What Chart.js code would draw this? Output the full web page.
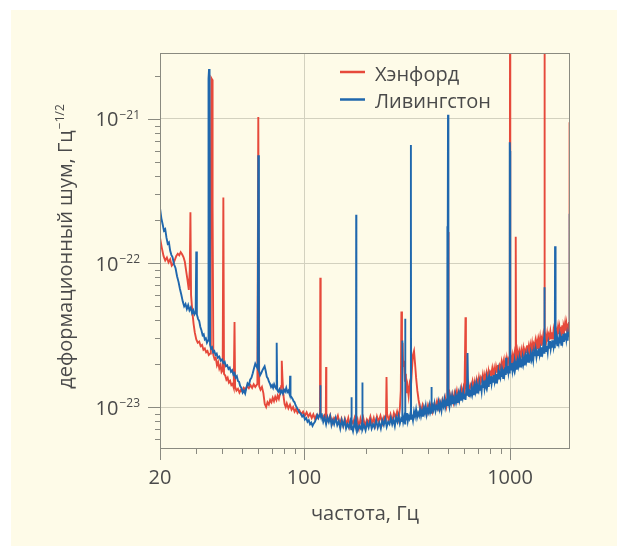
<!DOCTYPE html>
<html>
<head>
<meta charset="utf-8">
<title>Шум детекторов LIGO</title>
<script src="https://cdn.jsdelivr.net/npm/chart.js"></script>
<style>
  body { margin: 0; background: #ffffff; }
  #wrap { position: absolute; left: 11px; top: 10px; width: 606px; height: 536px; background: #fefbe8; }
</style>
</head>
<body>
<div id="wrap"><canvas id="noise-chart" width="606" height="536"></canvas></div>

<script>
// strain noise, units of 1e-23 1/sqrt(Hz)
const hanford = [
  [20,15],[20.4,12.8],[20.8,11.2],[21.2,10.4],[21.6,10.9],[22,10.1],[22.4,10.6],[22.8,9.6],[23.2,9.9],[23.6,10.5],
  [24,11.2],[24.4,11.6],[24.8,11.3],[25.2,11.9],[25.6,11.5],[26,11.0],[26.4,10.2],[26.8,8.8],[27.2,7.6],[27.6,6.5],
  [27.9,9],[28.1,22.5],[28.3,6],[28.7,4.6],[29.1,3.8],[29.5,3.3],[30,2.95],[30.5,2.8],[31,2.85],[31.5,2.65],
  [32,2.7],[32.5,2.5],[33,2.55],[33.5,2.4],[34,2.45],[34.5,2.3],[35,2.35],[35.3,30],[35.5,192],[35.8,188],
  [36.0,25],[36.3,2.3],[36.8,2.15],[37.3,2.2],[37.8,1.95],[38.3,2.05],[38.8,1.85],[39.3,1.95],[39.8,1.75],[40.3,1.8],
  [40.6,28.5],[40.9,1.7],[41.5,1.65],[42,1.55],[42.6,1.6],[43.2,1.48],[43.8,1.52],[44.4,1.42],[45,1.45],[45.6,1.36],
  [46,3.9],[46.3,1.38],[47,1.3],[47.8,1.34],[48.6,1.26],[49.4,1.32],[50.2,1.28],[51,1.36],[52,1.32],[53,1.4],
  [54,1.35],[55,1.42],[56,1.36],[57,1.44],[58,1.38],[59.4,1.45],[60,103],[60.6,1.4],[61.5,1.32],[62.5,1.38],
  [63.5,1.25],[64.5,1.05],[65.5,1.0],[66.5,1.08],[67.5,1.04],[68.5,1.12],[69.5,1.08],[70.5,1.16],[71.5,1.1],[72.5,1.18],
  [73.5,1.12],[74.5,1.2],[75.5,1.14],[76.5,1.24],[77.5,1.4],[78,2.1],[78.6,1.6],[79.5,1.2],[80.5,1.05],[81.5,1.0],
  [82.5,1.06],[84,0.98],[85.5,1.04],[87,0.96],[88.5,1.0],[90,0.93],[91.5,0.97],[93,0.91],[95,0.95],[97,0.89],
  [99,0.93],[101,0.87],[103,0.92],[105,0.86],[107,0.9],[109,0.84],[111,0.89],[113,0.83],[115,0.88],[117,0.84],
  [119.5,0.9],[120,7.9],[120.5,0.88],[123,0.83],[125.5,0.88],[127.6,0.85],[128,1.9],[128.4,0.86],[131,0.8],[134,0.88],
  [137,0.77],[140,0.84],[143,0.8],[146,0.87],[149,0.76],[152,0.83],[155,0.74],[158,0.83],[161,0.76],[164,0.84],
  [167,0.73],[170,0.81],[173,0.77],[176,0.84],[179,0.75],[182,0.82],[185,0.72],[188,0.83],[191,0.76],[194,0.84],
  [198,0.74],[202,0.82],[206,0.78],[210,0.86],[214,0.77],[218,0.84],[222,0.75],[226,0.86],[230,0.79],[235,0.87],
  [240,0.77],[245,0.86],[250,0.82],[251.5,1.62],[253,0.9],[258,0.81],[263,0.89],[268,0.79],[273,0.91],[278,0.84],
  [283,0.93],[288,0.83],[292,0.98],[295,1.3],[297,4.6],[299,2.4],[301,2.8],[303,1.9],[306,2.1],[309,1.5],
  [312,1.7],[315,1.25],[318,1.4],[322,1.2],[326,1.45],[330,1.35],[334,1.8],[338,2.3],[342,2.45],[346,2.0],
  [350,1.6],[355,1.3],[360,1.12],[365,1.0],[370,0.94],[376,1.03],[382,0.92],[388,1.01],[394,0.9],[400,1.03],
  [407,0.95],[414,1.05],[421,0.93],[428,1.04],[435,1.0],[442,1.1],[449,0.99],[456,1.09],[463,0.98],[470,1.12],
  [477,1.04],[484,1.16],[491,1.02],[497,1.15],[500,16.4],[503,1.11],[510,1.23],[517,1.1],[524,1.22],[531,1.09],
  [538,1.25],[545,1.16],[552,1.29],[559,1.14],[566,1.28],[573,1.23],[580,1.36],[587,1.22],[594,1.35],[601,1.21],
  [608,4.2],[611,1.4],[618,1.29],[626,1.44],[634,1.27],[642,1.43],[650,1.37],[658,1.51],[666,1.36],[674,1.5],
  [682,1.34],[690,1.55],[698,1.44],[706,1.6],[714,1.42],[722,1.59],[730,1.52],[738,1.68],[746,1.51],[754,1.66],
  [762,1.49],[770,1.71],[778,1.58],[786,1.76],[794,1.56],[802,1.75],[811,1.69],[820,1.86],[829,1.66],[838,1.84],
  [847,1.65],[856,1.9],[865,1.76],[874,1.96],[883,1.73],[892,1.94],[901,1.86],[910,2.05],[919,1.84],[928,2.04],
  [937,1.82],[946,2.1],[955,1.93],[964,2.15],[973,1.91],[982,2.13],[991,2.05],[997,2.25],[1000,400],[1003,2.0],
  [1012,2.22],[1022,1.98],[1032,2.28],[1042,2.1],[1052,2.34],[1062,2.07],[1066,15.2],[1070,2.31],[1080,2.21],[1090,2.44],
  [1100,2.19],[1112,2.41],[1124,2.15],[1136,2.48],[1148,2.28],[1160,2.54],[1172,2.25],[1184,2.51],[1196,2.41],[1208,2.68],
  [1220,2.38],[1232,2.62],[1244,2.34],[1256,2.69],[1268,2.48],[1280,2.76],[1292,2.44],[1304,2.73],[1316,2.62],[1328,2.88],
  [1340,2.57],[1352,2.84],[1364,2.53],[1376,2.91],[1388,2.68],[1400,3.01],[1412,2.66],[1424,2.97],[1436,2.84],[1448,3.12],
  [1460,2.79],[1468,3.07],[1471,400],[1474,2.72],[1486,3.13],[1500,2.9],[1514,3.22],[1528,2.85],[1542,3.18],[1556,3.05],
  [1570,3.35],[1584,3.0],[1598,3.31],[1612,2.95],[1626,3.39],[1640,3.12],[1654,3.47],[1668,3.06],[1682,3.41],[1696,3.27],
  [1710,3.6],[1724,3.21],[1738,3.54],[1752,3.15],[1766,3.61],[1780,3.32],[1794,3.69],[1808,3.26],[1822,3.63],[1836,3.47],
  [1850,3.81],[1864,3.4],[1878,3.74],[1892,3.33],[1906,3.81],[1920,3.5],[1934,3.89],[1942,3.42],[1946,95],[1950,40],
  [1955,3.81]
];

const livingston = [
  [20,24],[20.3,20.5],[20.6,18.6],[20.9,16.8],[21.2,17.2],[21.5,15],[21.8,13.6],[22.1,13.9],[22.4,12.2],[22.7,11.4],
  [23,11.0],[23.4,9.8],[23.8,9.2],[24.2,8.1],[24.6,7.4],[25,6.6],[25.4,6.0],[25.8,5.4],[26.2,5.0],[26.6,5.2],
  [27,4.8],[27.4,5.1],[27.8,4.7],[28.2,4.9],[28.6,4.5],[29,4.7],[29.4,4.4],[29.8,4.55],[30,12],[30.2,4.4],
  [30.6,4.1],[31,3.95],[31.4,3.6],[31.8,3.4],[32.2,3.15],[32.6,3.2],[33,2.95],[33.4,3.0],[33.8,2.8],[34.2,2.9],
  [34.4,190],[34.6,222],[34.8,150],[35,2.7],[35.4,2.55],[35.8,2.6],[36.2,2.4],[36.7,2.45],[37.2,2.3],[37.7,2.35],
  [38.2,2.2],[38.8,2.24],[39.4,2.1],[40,2.14],[40.6,2.02],[41.2,2.06],[41.8,1.92],[42.4,1.95],[43,1.84],[43.6,1.88],
  [44.2,1.76],[44.8,1.8],[45.4,1.68],[46,1.72],[46.6,1.6],[47.2,1.64],[47.8,1.52],[48.4,1.5],[49,1.4],[49.7,1.36],
  [50.4,1.26],[51.1,1.3],[51.8,1.24],[52.5,1.36],[53.2,1.46],[54,1.42],[54.8,1.55],[55.6,1.6],[56.4,1.72],[57.2,1.86],
  [58,2.0],[58.8,1.92],[59.6,1.85],[60,56],[60.4,1.8],[61.2,1.66],[62,1.72],[62.8,1.8],[63.6,1.86],[64.4,1.92],
  [65.2,1.78],[66,1.62],[66.8,1.58],[67.6,1.5],[68.4,1.45],[69.2,1.38],[70,1.42],[70.8,1.36],[71.6,1.44],[72.4,1.38],
  [73.3,1.34],[73.7,2.8],[74.1,1.32],[75,1.28],[76,1.33],[77,1.25],[78,1.3],[79,1.24],[80,1.32],[81,1.28],
  [82,1.36],[83,1.27],[84,1.3],[85.2,1.22],[85.6,1.65],[86,1.2],[87,1.17],[88,1.14],[89,1.1],[90,1.08],
  [91,1.03],[92,1.0],[93.5,0.96],[95,0.92],[96.5,0.9],[98,0.86],[99.5,0.88],[101,0.82],[102.5,0.84],[104,0.79],
  [105.5,0.81],[107,0.76],[108.5,0.78],[110,0.74],[111.5,0.77],[113,0.79],[114.5,0.83],[116,0.88],[117.5,0.84],[119.7,0.9],
  [120,1.42],[120.4,0.88],[122,0.89],[124,0.79],[126,0.85],[128,0.76],[130,0.85],[132,0.79],[134,0.86],[136,0.75],
  [138,0.81],[140,0.76],[142.5,0.84],[145,0.75],[147.5,0.8],[150,0.71],[152.5,0.81],[155,0.74],[157.5,0.81],[160,0.71],
  [162.5,0.76],[165,0.72],[167.5,0.79],[169.6,0.7],[170,1.17],[170.4,0.75],[173,0.68],[176,0.78],[178.8,0.71],[179.2,21.6],
  [179.6,0.79],[182.5,0.69],[185.5,0.74],[188.5,0.71],[191.6,0.78],[192,1.48],[192.4,0.7],[195.5,0.75],[199,0.69],[202.5,0.78],
  [206,0.72],[209.5,0.8],[213,0.71],[216.5,0.76],[220,0.72],[224,0.81],[228,0.72],[232,0.78],[236,0.71],[240,0.81],
  [244,0.75],[248,0.83],[252,0.73],[256,0.79],[260,0.76],[264,0.84],[268,0.76],[272,0.82],[276,0.74],[280,0.85],
  [284,0.79],[288,0.87],[292,0.77],[296,0.83],[299.6,0.8],[300,2.9],[300.4,0.88],[303,0.79],[306,0.85],[309.6,0.77],
  [310,4.1],[310.4,0.88],[313,0.82],[316,0.91],[319,0.8],[322,0.86],[325,0.83],[329.4,0.92],[330,66],[330.6,30],
  [331,0.83],[334,0.89],[338,0.81],[342,0.93],[346,0.86],[350,0.96],[354,0.85],[358,0.91],[362,0.87],[366,0.97],
  [370,0.87],[374,0.94],[378,0.86],[382,0.98],[386,0.91],[390,1.01],[394,0.89],[398,0.96],[402,0.92],[406,1.02],
  [410,0.92],[415.6,0.99],[416,1.38],[416.4,0.9],[420,1.03],[425,0.96],[430,1.06],[435,0.94],[440,1.01],[445,0.97],
  [450,1.08],[455,0.97],[460,1.05],[465,0.95],[470,1.09],[475,1.02],[480,1.13],[485,1.0],[490,1.08],[494.5,1.03],
  [495,18],[495.5,1.14],[499.5,1.03],[500,107],[501.5,60],[503,1.11],[508,1.01],[513,1.16],[518,1.08],[523,1.19],
  [528,1.05],[533,1.14],[538,1.08],[543,1.21],[548,1.09],[553,1.17],[558,1.07],[563,1.22],[568,1.13],[573,1.26],
  [578,1.11],[583,1.2],[588,1.15],[593,1.28],[598,1.15],[603,1.24],[608,1.12],[613,1.29],[618,1.2],[622,2.37],
  [626,1.33],[632,1.18],[638,1.27],[644,1.22],[650,1.36],[656,1.23],[662,1.33],[668,1.21],[674,1.39],[680,1.29],
  [686,1.43],[692,1.26],[698,1.37],[704,1.31],[710,1.46],[716,1.32],[722,1.42],[728,1.29],[734,1.49],[740,1.38],
  [746,1.53],[752,1.35],[758,1.46],[764,1.4],[770,1.56],[776,1.41],[782,1.52],[788,1.38],[794,1.59],[800,1.47],
  [807,1.64],[814,1.45],[821,1.57],[828,1.5],[835,1.67],[842,1.51],[849,1.63],[856,1.48],[863,1.7],[870,1.59],
  [877,1.76],[884,1.56],[891,1.69],[898,1.61],[905,1.79],[912,1.62],[919,1.75],[926,1.59],[933,1.83],[940,1.7],
  [947,1.89],[954,1.67],[958,2.2],[962,1.81],[969,1.74],[976,1.93],[983,1.74],[990,1.88],[996,1.71],[998,69],
  [1000,60],[1002,40],[1004,1.96],[1012,1.82],[1020,2.02],[1028,1.79],[1036,1.94],[1044,1.85],[1052,2.06],[1060,1.85],
  [1070,2.0],[1080,1.82],[1090,2.09],[1100,1.94],[1110,2.16],[1120,1.91],[1130,2.07],[1140,1.98],[1150,2.2],[1160,1.99],
  [1170,2.15],[1180,1.95],[1190,2.24],[1200,2.09],[1212,2.32],[1224,2.06],[1236,2.23],[1248,2.13],[1260,2.37],[1272,2.15],
  [1284,2.32],[1296,2.11],[1308,2.43],[1320,2.26],[1332,2.5],[1344,2.22],[1356,2.4],[1368,2.3],[1380,2.55],[1392,2.31],
  [1404,2.5],[1416,2.27],[1428,2.6],[1440,2.43],[1452,2.7],[1464,2.38],[1469,2.57],[1471,6.8],[1473,2.44],[1485,2.71],
  [1498,2.45],[1511,2.65],[1524,2.41],[1537,2.77],[1550,2.58],[1563,2.87],[1576,2.54],[1589,2.74],[1602,2.62],[1615,2.91],
  [1628,2.62],[1641,2.83],[1650,2.56],[1654,13.1],[1658,2.93],[1670,2.73],[1683,3.03],[1696,2.68],[1709,2.89],[1722,2.76],
  [1735,3.07],[1748,2.77],[1761,2.99],[1774,2.71],[1787,3.12],[1800,2.9],[1813,3.22],[1826,2.84],[1839,3.07],[1852,2.94],
  [1865,3.26],[1878,2.95],[1891,3.18],[1904,2.89],[1917,3.32],[1930,3.08],[1942,3.42],[1946,22],[1950,10],[1955,3.06]
];

const xTicks = [20, 30, 40, 50, 60, 70, 80, 90, 100, 200, 300, 400, 500, 600, 700, 800, 900, 1000];
const xTickLabels = ['20', '', '', '', '', '', '', '', '100', '', '', '', '', '', '', '', '', '1000'];
const yTicks = [6e-24, 7e-24, 8e-24, 9e-24, 1e-23, 2e-23, 3e-23, 4e-23, 5e-23, 6e-23, 7e-23, 8e-23, 9e-23,
                1e-22, 2e-22, 3e-22, 4e-22, 5e-22, 6e-22, 7e-22, 8e-22, 9e-22, 1e-21, 2e-21];
const yTickExponents = ['', '', '', '', '−23', '', '', '', '', '', '', '', '',
                        '−22', '', '', '', '', '', '', '', '', '−21', ''];

const FONT = '"Open Sans", "DejaVu Sans", sans-serif';
const TEXT = '#4a4a4a';

// ticks, frame, labels, legend
const decorations = {
    id: 'decorations',
    afterDraw(chart) {
        const ctx = chart.ctx;
        const a = chart.chartArea;
        const x = chart.scales.x, y = chart.scales.y;
        ctx.save();
        ctx.strokeStyle = '#8a8a80';
        ctx.lineWidth = 1;
        ctx.strokeRect(a.left + 0.5, a.top + 0.5, a.right - a.left - 1, a.bottom - a.top);

        ctx.beginPath();
        xTicks.forEach((v, i) => {
            const px = Math.round(x.getPixelForValue(v)) + 0.5;
            const len = xTickLabels[i] ? 12 : 6;
            ctx.moveTo(px, a.bottom);
            ctx.lineTo(px, a.bottom + len);
        });
        yTicks.forEach((v, i) => {
            const py = Math.round(y.getPixelForValue(v)) + 0.5;
            const len = yTickExponents[i] ? 12 : 5;
            ctx.moveTo(a.left, py);
            ctx.lineTo(a.left - len, py);
        });
        ctx.stroke();

        ctx.fillStyle = TEXT;
        ctx.textBaseline = 'alphabetic';
        ctx.font = '20px ' + FONT;
        ctx.textAlign = 'center';
        xTicks.forEach((v, i) => {
            if (xTickLabels[i]) ctx.fillText(xTickLabels[i], x.getPixelForValue(v), 474);
        });
        ctx.fillText('частота, Гц', (a.left + a.right) / 2, 510);

        const right = 129;
        yTicks.forEach((v, i) => {
            if (!yTickExponents[i]) return;
            const py = y.getPixelForValue(v);
            ctx.font = '12px ' + FONT;
            ctx.textAlign = 'right';
            const sw = ctx.measureText(yTickExponents[i]).width;
            ctx.fillText(yTickExponents[i], right, py);
            ctx.font = '20px ' + FONT;
            ctx.fillText('10', right - sw - 1, py + 7.5);
        });

        // rotated y title with superscript
        ctx.save();
        ctx.translate(61, (a.top + a.bottom) / 2 - 4);
        ctx.rotate(-Math.PI / 2);
        ctx.textAlign = 'left';
        const main = 'деформационный шум, Гц', sup = '−1/2';
        ctx.font = '20px ' + FONT;
        const w1 = ctx.measureText(main).width;
        ctx.font = '12px ' + FONT;
        const w2 = ctx.measureText(sup).width;
        const start = -(w1 + w2 + 1) / 2;
        ctx.font = '20px ' + FONT;
        ctx.fillText(main, start, 0);
        ctx.font = '12px ' + FONT;
        ctx.fillText(sup, start + w1 + 1, -8);
        ctx.restore();

        // legend inside the plot
        const items = [chart.data.datasets[0], chart.data.datasets[1]];
        items.forEach((ds, i) => {
            const ly = 62 + i * 27.5;
            ctx.strokeStyle = ds.borderColor;
            ctx.lineWidth = 2.5;
            ctx.beginPath();
            ctx.moveTo(329, ly);
            ctx.lineTo(354, ly);
            ctx.stroke();
            ctx.fillStyle = TEXT;
            ctx.font = '20px ' + FONT;
            ctx.textAlign = 'left';
            ctx.fillText(ds.label, 364, ly + 8.5);
        });
        ctx.restore();
    }
};

function gridColor(values, labels) {
    return (c) => {
        if (!c.tick) return 'rgba(0,0,0,0)';
        const i = values.indexOf(c.tick.value);
        return i >= 0 && labels[i] ? '#d3d1bf' : 'rgba(0,0,0,0)';
    };
}

const toPoints = (arr) => arr.map(p => ({ x: p[0], y: p[1] * 1e-23 }));

const chart = new Chart(document.getElementById('noise-chart').getContext('2d'), {
    type: 'line',
    data: {
        datasets: [{
            label: 'Хэнфорд',
            data: toPoints(hanford),
            borderColor: '#e6493b',
            borderWidth: 1.9,
            pointRadius: 0,
            order: 1
        }, {
            label: 'Ливингстон',
            data: toPoints(livingston),
            borderColor: '#1f67ad',
            borderWidth: 1.9,
            pointRadius: 0,
            order: 0
        }]
    },
    options: {
        responsive: false,
        animation: false,
        devicePixelRatio: 1,
        layout: { padding: { left: 0, top: 43, right: 47, bottom: 0 } },
        plugins: { legend: { display: false }, tooltip: { enabled: false } },
        scales: {
            x: {
                type: 'logarithmic',
                min: 20,
                max: 1955,
                afterBuildTicks: s => { s.ticks = xTicks.map(v => ({ value: v })); },
                afterFit: s => { s.height = 98; },
                ticks: { display: false },
                grid: { drawTicks: false, color: gridColor(xTicks, xTickLabels) },
                border: { display: false }
            },
            y: {
                type: 'logarithmic',
                min: 5.2e-24,
                max: 2.87e-21,
                afterBuildTicks: s => { s.ticks = yTicks.map(v => ({ value: v })); },
                afterFit: s => { s.width = 149; },
                ticks: { display: false },
                grid: { drawTicks: false, color: gridColor(yTicks, yTickExponents) },
                border: { display: false }
            }
        }
    },
    plugins: [decorations]
});
</script>
</body>
</html>
